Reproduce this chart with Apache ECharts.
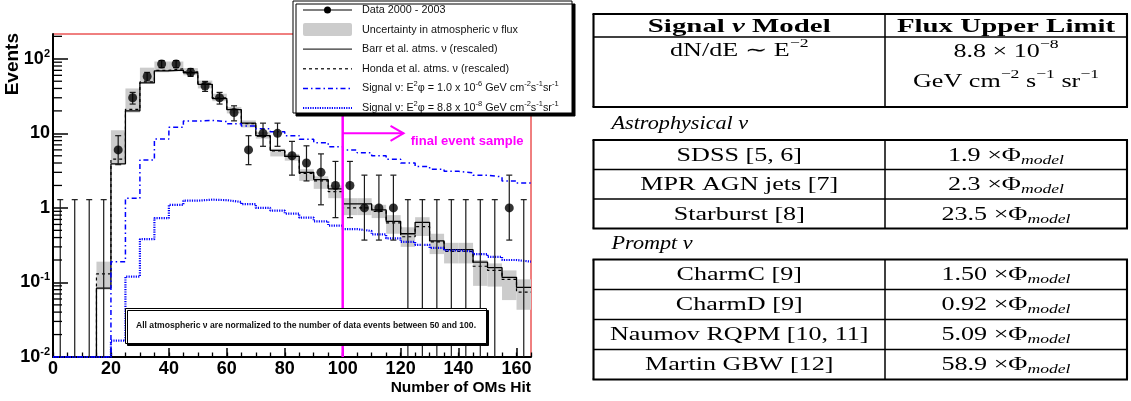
<!DOCTYPE html>
<html><head><meta charset="utf-8"><title>OMs hit</title>
<script src="https://cdn.jsdelivr.net/npm/echarts@6.0.0/dist/echarts.min.js"></script>
<style>html,body{margin:0;padding:0;background:#fff;}#chart{width:1131px;height:401px;}</style>
</head><body><div id="chart"></div>
<script>
// ---------------- data ----------------
const binLeft = [0,5,10,15,20,25,30,35,40,45,50,55,60,65,70,75,80,85,90,95,100,105,110,115,120,125,130,135,140,145,150,155,160];
const binWidth = 5;
const dataCounts = [0,0,0,0,6,30,58,85,85,66,43,30,19,6,10,10,5,4,3,2,2,1,1,1,0,0,0,0,0,0,0,1,0];
const errLow  = [0,0,0,0,3.8,24.7,50.5,76,76,58,36.5,24.7,14.7,3.8,6.7,6.7,2.75,2.3,1.1,0.74,0.74,0.37,0.37,0.37,0,0,0,0,0,0,0,0.37,0];
const errHigh = [1.29,1.29,1.29,1.29,9.3,35.4,65.7,94.5,94.5,74,49.7,35.4,23.4,9.3,13.7,13.7,7.8,6.8,5.3,4.2,4.2,2.75,2.75,2.75,1.29,1.29,1.29,1.29,1.29,1.29,1.29,2.75,1.29];
const barr  = [0.01,0.01,0.01,0.084,3.9,20,47.5,69,70.5,65,45.5,29.3,20.8,13.7,9.3,5.9,4.9,3.0,2.4,1.8,1.13,1.13,0.94,0.66,0.45,0.64,0.36,0.275,0.275,0.187,0.158,0.117,0.086];
const honda = [0.01,0.01,0.01,0.13,4.5,21,49,70,73.5,67,47,30,21,13.5,9.2,5.8,4.9,2.9,2.3,1.65,1.0,1.0,0.9,0.63,0.41,0.56,0.35,0.26,0.26,0.165,0.145,0.11,0.074];
const bandLow  = [null,null,null,0.08,3.9,19,47,66,68,60,40,27,18.5,12,8.5,4.9,4.3,2.3,1.8,1.35,0.8,0.8,0.73,0.45,0.30,0.42,0.24,0.18,0.18,0.09,0.088,0.058,0.043];
const bandHigh = [null,null,null,0.19,11,40,76,92,92,75,51,34,22.6,14.9,10.5,6.2,5.3,3.3,2.65,2.0,1.35,1.35,1.1,0.8,0.55,0.75,0.45,0.34,0.34,0.2,0.18,0.145,0.11];
const signalA = [0.01,0.01,0.01,0.01,0.19,1.35,4.4,8.4,12.1,14.6,14.9,14.4,13.4,12.5,11.5,10.5,9.3,8.3,7.5,6.6,6.0,5.5,5.0,4.5,4.0,3.6,3.3,3.1,2.95,2.75,2.6,2.3,2.15];
const signalB = [0.01,0.01,0.01,0.01,0.0166,0.12,0.38,0.73,1.1,1.25,1.29,1.27,1.2,1.12,1.0,0.92,0.84,0.74,0.66,0.58,0.52,0.49,0.44,0.39,0.35,0.32,0.29,0.27,0.26,0.24,0.22,0.2,0.19];
const yMajorTicks = [0.01,0.1,1,10,100];
const yMinorTicks = [0.02,0.03,0.04,0.05,0.06,0.07,0.08,0.09,0.2,0.3,0.4,0.5,0.6,0.7,0.8,0.9,2,3,4,5,6,7,8,9,20,30,40,50,60,70,80,90,200];
const xMajorTicks = [0,20,40,60,80,100,120,140,160];
const cutLine = [100];
const arrowSpan = [100, 121, 10];
const cutLabelPos = [123.5, 7.8];
const cutLabel = 'final event sample';
const seriesNames = ['Data 2000 - 2003','Uncertainty in atmospheric ν flux','Barr et al. atms. ν (rescaled)','Honda et al. atms. ν (rescaled)','Signal ν: E²φ = 1.0 x 10⁻⁶ GeV cm⁻²s⁻¹sr⁻¹','Signal ν: E²φ = 8.8 x 10⁻⁸ GeV cm⁻²s⁻¹sr⁻¹'];
const legendRich = ['Data 2000 - 2003','Uncertainty in atmospheric ν flux','Barr et al. atms. ν (rescaled)','Honda et al. atms. ν (rescaled)','Signal ν: E{s|2}φ = 1.0 x 10{s|-6} GeV cm{s|-2}s{s|-1}sr{s|-1}','Signal ν: E{s|2}φ = 8.8 x 10{s|-8} GeV cm{s|-2}s{s|-1}sr{s|-1}'];
const noteText = 'All atmospheric ν are normalized to the number of data events between 50 and 100.';
// table
const tableHeader = ['{b|Signal }{bi|ν}{b| Model}', '{b|Flux Upper Limit}'];
const e2Model = 'dN/dE ∼ E{sup|−2}';
const e2Limit = ['8.8 × 10{sup|−8}', 'GeV cm{sup|−2} s{sup|−1} sr{sup|−1}'];
const astroModels = ['SDSS [5, 6]','MPR AGN jets [7]','Starburst [8]'];
const astroLimits = ['1.9','2.3','23.5'];
const promptModels = ['CharmC [9]','CharmD [9]','Naumov RQPM [10, 11]','Martin GBW [12]'];
const promptLimits = ['1.50','0.92','5.09','58.9'];

// ---------------- chart ----------------
const SANS = 'Liberation Sans';
const SERIF = 'Liberation Serif';
const Y_MIN = 0.01, Y_MAX = 215, X_MIN = 0, X_MAX = 165;
const L10 = v => Math.log10(Math.max(v, Y_MIN));
const chart = echarts.init(document.getElementById('chart'));

function stepData(vals){
  const d = binLeft.map((x,i)=>[x, L10(vals[i])]);
  d.push([binLeft[binLeft.length-1]+binWidth, L10(vals[vals.length-1])]);
  return d;
}
function yLab(e){
  const r = Math.round(e);
  if (Math.abs(e - r) > 1e-6) return '';
  if (r === 0) return '1';
  if (r === 1) return '10';
  return '10{sup|' + r + '}';
}
const bandData = binLeft.map((x,i)=> bandLow[i]==null ? null : [x, x+binWidth, L10(bandLow[i]), L10(bandHigh[i])]).filter(Boolean);
const errData = binLeft.map((x,i)=>[x+binWidth/2, L10(errLow[i]), L10(errHigh[i]), dataCounts[i]]);
const ptData = binLeft.map((x,i)=>[x+binWidth/2, dataCounts[i]]).filter(p=>p[1]>0).map(p=>[p[0], L10(p[1])]);

// table layout
const TL = 593.5, TD = 885, TR = 1127;
const C1 = (TL+TD)/2, C2 = (TD+TR)/2;
const SX = 1.41, SXH = 1.52;
const FS = 18.5;
const richT = {
  b: {fontFamily: SERIF, fontSize: 19, fontWeight: 'bold', fill: '#000'},
  bi: {fontFamily: SERIF, fontSize: 19, fontWeight: 'bold', fontStyle: 'italic', fill: '#000'},
  i: {fontFamily: SERIF, fontSize: FS, fontStyle: 'italic', fill: '#000'},
  sup: {fontFamily: SERIF, fontSize: 12.5, fill: '#000', padding: [0,0,14,0]},
  sub: {fontFamily: SERIF, fontSize: 12.5, fontStyle: 'italic', fill: '#000', padding: [9,0,0,0]}
};
const G = [];
function txt(text, x, y, align, sx){
  G.push({type:'text', x:x, y:y, scaleX: sx||SX, z:100,
    style:{text:text, x:0, y:0, align:align||'center', verticalAlign:'middle', fontFamily:SERIF, fontSize:FS, fill:'#000', rich:richT}});
}
function ln(x1,y1,x2,y2,w){
  G.push({type:'line', z:100, shape:{x1:x1,y1:y1,x2:x2,y2:y2}, style:{stroke:'#000', lineWidth:w}});
}
function table(top, rowsY, bottom){
  ln(TL-1, top, TR+1, top, 2.1);
  ln(TL-1, bottom, TR+1, bottom, 2.1);
  ln(TL, top, TL, bottom, 2.1);
  ln(TR, top, TR, bottom, 2.1);
  ln(TD, top, TD, bottom, 1.5);
  rowsY.forEach(y=>ln(TL, y, TR, y, 1.6));
}
// table 1
table(14, [37], 107);
txt(tableHeader[0], C1, 27, 'center', SXH);
txt(tableHeader[1], C2, 27, 'center', SXH);
txt(e2Model, C1, 51);
txt(e2Limit[0], C2, 52);
txt(e2Limit[1], C2, 82);
// table 2
txt('{i|Astrophysical ν}', 611.5, 124.5, 'left', 1.2);
const t2Top = 140, rowH2 = 29.5;
table(t2Top, [t2Top+rowH2, t2Top+2*rowH2], t2Top+3*rowH2);
astroModels.forEach((m,i)=>{ const y = t2Top+rowH2*(i+0.5)+1; txt(m, C1, y); txt(astroLimits[i]+' ×Φ{sub|model}', C2, y); });
// table 3
txt('{i|Prompt ν}', 611.5, 244, 'left', 1.2);
const t3Top = 259.5, rowH3 = 30;
table(t3Top, [t3Top+rowH3, t3Top+2*rowH3, t3Top+3*rowH3], t3Top+4*rowH3);
promptModels.forEach((m,i)=>{ const y = t3Top+rowH3*(i+0.5)+1; txt(m, C1, y); txt(promptLimits[i]+' ×Φ{sub|model}', C2, y); });

// y title
G.push({type:'text', z:100, x:22, y:33, rotation:Math.PI/2,
  style:{text:'Events', x:0, y:0, align:'right', verticalAlign:'bottom', fontFamily:SANS, fontSize:19, fontWeight:'bold', fill:'#000'}});

// legend box
const LX0 = 303, LX1 = 352, LTX = 362;
G.push({type:'rect', z:110, shape:{x:293, y:1, width:279, height:112}, style:{fill:'#fff', stroke:'#000', lineWidth:1, shadowColor:'#000', shadowOffsetX:3, shadowOffsetY:3, shadowBlur:0}});
const legY = i => 10 + 19.6*i;
G.push({type:'line', z:111, shape:{x1:LX0,y1:legY(0),x2:LX1,y2:legY(0)}, style:{stroke:'#000', lineWidth:1.2}});
G.push({type:'circle', z:111, shape:{cx:(LX0+LX1)/2, cy:legY(0), r:3.5}, style:{fill:'#000'}});
G.push({type:'rect', z:111, shape:{x:LX0, y:legY(1)-6.5, width:LX1-LX0, height:13, r:2}, style:{fill:'#cccccc'}});
G.push({type:'line', z:111, shape:{x1:LX0,y1:legY(2),x2:LX1,y2:legY(2)}, style:{stroke:'#333', lineWidth:1.2}});
G.push({type:'line', z:111, shape:{x1:LX0,y1:legY(3),x2:LX1,y2:legY(3)}, style:{stroke:'#000', lineWidth:1.2, lineDash:[3,3]}});
G.push({type:'line', z:111, shape:{x1:LX0,y1:legY(4),x2:LX1,y2:legY(4)}, style:{stroke:'#0000ff', lineWidth:1.5, lineDash:[5,3,1.5,3]}});
G.push({type:'line', z:111, shape:{x1:LX0,y1:legY(5),x2:LX1,y2:legY(5)}, style:{stroke:'#0000ff', lineWidth:2.2, lineDash:[1.2,1.2]}});
legendRich.forEach((t,i)=>{
  G.push({type:'text', z:111, x:LTX, y:legY(i), style:{text:t, x:0, y:0, align:'left', verticalAlign:'middle', fontFamily:SANS, fontSize:10.8, fill:'#111',
    rich:{s:{fontFamily:SANS, fontSize:7.5, fill:'#111', padding:[0,0,8,0]}}}});
});
// note box
G.push({type:'rect', z:110, shape:{x:125.5, y:308.5, width:361, height:35}, style:{fill:'#fff', stroke:'#000', lineWidth:1, shadowColor:'#000', shadowOffsetX:2, shadowOffsetY:2, shadowBlur:0}});
G.push({type:'text', z:111, x:136, y:326, style:{text:noteText, x:0, y:0, align:'left', verticalAlign:'middle', fontFamily:SANS, fontSize:8.6, fontWeight:'bold', fill:'#111'}});

const option = {
  animation: false,
  backgroundColor: '#fff',
  grid: {left:53, right:600, top:34, bottom:44, show:true, borderColor:'#e00000', borderWidth:1, backgroundColor:'transparent'},
  xAxis: [{
    type:'value', min:X_MIN, max:X_MAX, interval:20, position:'bottom',
    axisLine:{show:true, onZero:false, lineStyle:{color:'#000', width:2}},
    axisTick:{show:true, inside:true, length:9, customValues:xMajorTicks, lineStyle:{color:'#000', width:1.5}},
    axisLabel:{formatter:v=> (v%20===0 ? String(v) : ''), customValues:xMajorTicks, fontSize:18, fontWeight:'bold', fontFamily:SANS, color:'#000', margin:3},
    splitLine:{show:false},
    name:'Number of OMs Hit', nameLocation:'end', nameGap:0,
    nameTextStyle:{align:'right', verticalAlign:'top', padding:[23,0,0,0], fontSize:15.5, fontWeight:'bold', fontFamily:SANS, color:'#000'}
  },{
    type:'value', min:X_MIN, max:X_MAX, interval:5, position:'bottom',
    axisLine:{show:false, onZero:false}, axisTick:{show:true, inside:true, length:4.5, lineStyle:{color:'#000', width:1.3}},
    axisLabel:{show:false}, splitLine:{show:false}
  }],
  yAxis: {
    type:'value', min:L10(Y_MIN), max:Math.log10(Y_MAX), interval:1,
    axisLine:{show:true, onZero:false, lineStyle:{color:'#000', width:2}},
    axisTick:{show:true, inside:true, length:15, customValues:yMajorTicks.map(L10), lineStyle:{color:'#000', width:1.5}},
    axisLabel:{formatter:yLab, customValues:yMajorTicks.map(L10), fontSize:18, fontWeight:'bold', fontFamily:SANS, color:'#000', margin:3,
      rich:{sup:{fontSize:11, fontWeight:'bold', fontFamily:SANS, color:'#000', padding:[0,0,10,0]}}},
    splitLine:{show:false}
  },
  graphic: G,
  series: [
    {name:seriesNames[1], type:'custom', data:bandData, encode:{x:[0,1], y:[2,3]}, z:1, silent:true,
      renderItem:(params, api)=>{
        const p0 = api.coord([api.value(0), api.value(3)]);
        const p1 = api.coord([api.value(1), api.value(2)]);
        return {type:'rect', shape:{x:p0[0], y:p0[1], width:p1[0]-p0[0], height:p1[1]-p0[1]}, style:{fill:'#cccccc'}};
      }},
    {name:seriesNames[2], type:'line', step:'end', data:stepData(barr), symbol:'none', z:3, lineStyle:{color:'#000', width:1.3}},
    {name:seriesNames[3], type:'line', step:'end', data:stepData(honda), symbol:'none', z:3, lineStyle:{color:'#000', width:1.2, type:[3,3]}},
    {name:seriesNames[4], type:'line', step:'end', data:stepData(signalA), symbol:'none', z:3, lineStyle:{color:'#0000ff', width:1.5, type:[5,3,1.5,3]}},
    {name:seriesNames[5], type:'line', step:'end', data:stepData(signalB), symbol:'none', z:3, lineStyle:{color:'#0000ff', width:2.2, type:[1.2,1.2]}},
    {name:'errors', type:'custom', data:errData, encode:{x:0, y:2}, z:4, silent:true,
      renderItem:(params, api)=>{
        const x = api.value(0), lo = api.value(1), hi = api.value(2), n = api.value(3);
        const pt = api.coord([x, hi]), pb = api.coord([x, lo]);
        const st = {stroke:'#1a1a1a', lineWidth:1.2};
        const ch = [
          {type:'line', shape:{x1:pt[0], y1:pt[1], x2:pb[0], y2:pb[1]}, style:st},
          {type:'line', shape:{x1:pt[0]-3, y1:pt[1], x2:pt[0]+3, y2:pt[1]}, style:st}
        ];
        if (n > 0) ch.push({type:'line', shape:{x1:pb[0]-3, y1:pb[1], x2:pb[0]+3, y2:pb[1]}, style:st});
        return {type:'group', children:ch};
      }},
    {name:seriesNames[0], type:'scatter', data:ptData, symbol:'circle', symbolSize:9, z:5, itemStyle:{color:'#000'}},
    {name:'yminor', type:'custom', data:yMinorTicks.map(v=>[X_MIN, L10(v)]), encode:{x:0, y:1}, z:6, silent:true,
      renderItem:(params, api)=>{
        const p = api.coord([api.value(0), api.value(1)]);
        return {type:'line', shape:{x1:p[0], y1:p[1], x2:p[0]+9, y2:p[1]}, style:{stroke:'#000', lineWidth:1.3}};
      }},
    {name:'cut', type:'custom', data:[[cutLine[0], arrowSpan[1], L10(arrowSpan[2])]], encode:{x:0, y:2}, z:7, silent:true,
      renderItem:(params, api)=>{
        const xc = api.value(0), xe = api.value(1), ya = api.value(2);
        const pb = api.coord([xc, L10(Y_MIN)]), ptop = api.coord([xc, Math.log10(Y_MAX)]);
        const a0 = api.coord([xc, ya]), a1 = api.coord([xe, ya]);
        const tp = api.coord([cutLabelPos[0], L10(cutLabelPos[1])]);
        const mg = '#ff00ff';
        return {type:'group', children:[
          {type:'line', shape:{x1:pb[0], y1:pb[1], x2:ptop[0], y2:ptop[1]}, style:{stroke:mg, lineWidth:2.5}},
          {type:'line', shape:{x1:a0[0], y1:a0[1], x2:a1[0], y2:a1[1]}, style:{stroke:mg, lineWidth:2}},
          {type:'polyline', shape:{points:[[a1[0]-13, a1[1]-7.5],[a1[0], a1[1]],[a1[0]-13, a1[1]+7.5]]}, style:{stroke:mg, lineWidth:2, fill:null}},
          {type:'text', x:tp[0], y:tp[1], style:{text:cutLabel, x:0, y:0, align:'left', verticalAlign:'middle', fontFamily:SANS, fontSize:13, fontWeight:'bold', fill:mg}}
        ]};
      }}
  ]
};
chart.setOption(option);
</script>
</body></html>
